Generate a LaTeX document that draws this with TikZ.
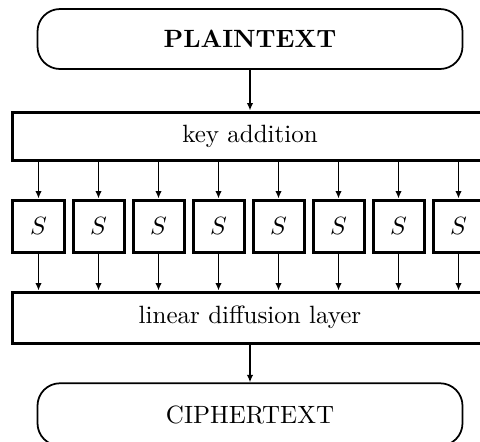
\documentclass[tikz,border=0pt]{standalone}
\usetikzlibrary{arrows.meta}
\begin{document}
\begin{tikzpicture}[x=0.4pt,y=-0.4pt,
  endbox/.style={draw,line width=0.7pt,rounded corners=9pt,minimum width=170pt,minimum height=24pt,inner sep=0pt},
  layerbox/.style={draw,line width=1.2pt,minimum width=189.6pt,inner sep=0pt},
  sbox/.style={draw,line width=1.2pt,minimum width=20.4pt,minimum height=20.8pt,inner sep=0pt},
  conn/.style={line width=0.6pt,-{Latex[length=3pt,width=2.6pt]}}]
\useasboundingbox (0,0) rectangle (480,441);
\clip (0,0) rectangle (480,441);
\node[endbox] (plain) at (250,39) {\textbf{PLAINTEXT}};
\node[layerbox,minimum height=19.2pt] (key) at (250,136) {key addition};
\foreach \i in {0,...,7}{
  \node[sbox] (s\i) at (38.5+60*\i,226) {$S$};
}
\node[layerbox,minimum height=20.4pt] (lin) at (250,317.5) {linear diffusion layer};
\node[endbox,minimum height=25pt] (ciph) at (250,414.5) {CIPHERTEXT};
\draw[conn] (plain.south) -- (key.north);
\foreach \i in {0,...,7}{
  \draw[conn] (s\i |- key.south) -- (s\i.north);
  \draw[conn] (s\i.south) -- (s\i |- lin.north);
}
\draw[conn] (lin.south) -- (ciph.north);
\end{tikzpicture}
\end{document}
